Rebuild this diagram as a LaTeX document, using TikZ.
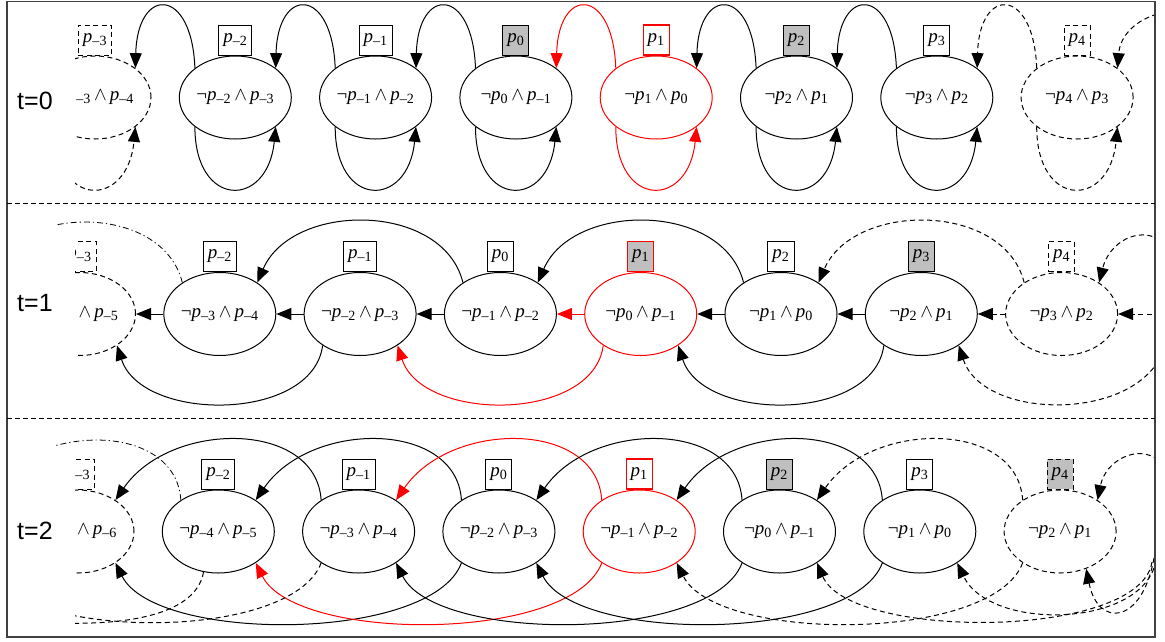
\documentclass[tikz,border=0pt]{standalone}
\usepackage{mathptmx}
\usepackage{fontspec}
\newfontfamily\labelfont{Liberation Sans}
\newfontfamily\tnr{Liberation Serif}
\usetikzlibrary{arrows.meta,shapes.geometric}
\newcommand\mysgn[1]{\ifnum#1<0 –\number\numexpr0-(#1)\relax\else#1\fi}
\newcommand\myp[1]{\textit{p}\textsubscript{\mysgn{#1}}}
\newcommand\andop{\,$\wedge$\,}
\begin{document}
\begin{tikzpicture}[
  x=1pt, y=-1pt,
  st/.style={ellipse, draw, minimum width=112pt, minimum height=83pt, inner sep=0pt, line width=1pt, font=\tnr\fontsize{19}{21}\selectfont},
  pbox/.style={draw, rectangle, minimum height=30pt, minimum width=24pt, inner xsep=4.5pt, inner ysep=0pt, line width=1pt, font=\tnr\fontsize{19}{21}\selectfont, anchor=south},
  txt/.style={font=\tnr\fontsize{19}{21}\selectfont, inner sep=0pt},
  plain/.style={},
  ghost/.style={dash pattern=on 5pt off 3.5pt},
  hlnode/.style={draw=red},
  hlbox/.style={draw=red, line width=1.1pt},
  shade/.style={fill=black!25},
  hlshade/.style={draw=red, line width=1.1pt, fill=black!25},
  ghshade/.style={dash pattern=on 5pt off 3.5pt, fill=black!25},
  edge/.style={line width=1pt, -{Triangle[length=15pt,width=12pt]}},
  dashdot/.style={line width=0.8pt, dash pattern=on 6pt off 3pt on 1.2pt off 3pt},
  rowlabel/.style={font=\labelfont\fontsize{25}{28}\selectfont, anchor=west, inner sep=0pt}
]
\useasboundingbox (0,0) rectangle (1165,641);

% row labels
\node[rowlabel] (t0) at (17,101) {t=0};
\node[rowlabel] (t1) at (17,303) {t=1};
\node[rowlabel] (t2) at (17,531) {t=2};

\coordinate (lb) at (-24,283);
\coordinate (lc) at (-25,500);

\begin{scope}
\clip (75,0) rectangle (1155,641);

% ---------------- row t=0 ----------------
\node[st,ghost] (a0) at (95,97.5) {};
\node[txt] (ta0) at (a0.center) {\phantom{¬\textit{p}}\textsubscript{–3}\andop\myp{-4}};
\node[pbox,ghost] (pa0) at (a0.north) {\myp{-3}};
\foreach \k/\es/\bs in {1/plain/plain,2/plain/plain,3/plain/shade,4/hlnode/hlbox,5/plain/shade,6/plain/plain,7/ghost/ghost}{
  \pgfmathtruncatemacro\i{\k-3}
  \pgfmathtruncatemacro\j{\k-4}
  \node[st,\es] (a\k) at ({95+140.3*\k},97.5) {¬\myp{\i}\andop\myp{\j}};
  \node[pbox,\bs] (pa\k) at (a\k.north) {\myp{\i}};
}
\foreach \k/\s in {1/plain,2/plain,3/plain,4/red,5/plain,6/plain,7/ghost}{
  \pgfmathtruncatemacro\j{\k-1}
  \draw[edge,\s] (a\k.144) .. controls +(-3,-82) and +(2,-82) .. (a\j.36);
}
\foreach \k/\s in {0/ghost,1/plain,2/plain,3/plain,4/red,5/plain,6/plain,7/ghost}{
  \draw[edge,\s] (a\k.216) .. controls +(0,82) and +(-8,82) .. (a\k.-36);
}
\coordinate (ra) at (1157,14);
\draw[edge,ghost] (ra) .. controls (1132,22) and (1120,38) .. (a7.36);

% ---------------- row t=1 ----------------
\node[st,ghost] (b0) at (79.5,314) {};
\node[txt] (tb0) at (b0.center) {\phantom{¬\myp{-4}}\andop\myp{-5}};
\node[pbox,ghost] (pb0) at (b0.north) {\myp{-3}};
\foreach \k/\es/\bs in {1/plain/plain,2/plain/plain,3/plain/plain,4/hlnode/hlshade,5/plain/plain,6/plain/shade,7/ghost/ghost}{
  \pgfmathtruncatemacro\i{\k-4}
  \pgfmathtruncatemacro\j{\k-5}
  \pgfmathtruncatemacro\m{\k-3}
  \node[st,\es] (b\k) at ({79.5+140.3*\k},314) {¬\myp{\i}\andop\myp{\j}};
  \node[pbox,\bs] (pb\k) at (b\k.north) {\myp{\m}};
}
\foreach \k/\s in {1/plain,2/plain,3/plain,4/red,5/plain,6/plain,7/ghost}{
  \pgfmathtruncatemacro\j{\k-1}
  \draw[edge,\s] (b\k.west) -- (b\j.east);
}
\coordinate (rb) at (1160,314);
\draw[edge,ghost] (rb) -- (b7.east);
\foreach \k/\s in {3/plain,5/plain,7/ghost}{
  \pgfmathtruncatemacro\j{\k-2}
  \draw[edge,\s] (b\k.140) .. controls +(-20,-81) and +(35,-81) .. (b\j.40);
}
\foreach \k/\s in {2/plain,4/red,6/plain}{
  \pgfmathtruncatemacro\j{\k-2}
  \draw[edge,\s] (b\k.220) .. controls +(-10,77) and +(25,77) .. (b\j.-40);
}
\coordinate (rb2) at (1165,345);
\draw[edge,ghost] (rb2) .. controls +(-20,77) and +(25,77) .. (b6.-40);
\coordinate (rb3) at (1160,240);
\draw[edge,ghost] (rb3) .. controls +(-22,-14) and +(10,-40) .. (b7.40);

% ---------------- row t=2 ----------------
\node[st,ghost] (c0) at (78,531.5) {};
\node[txt] (tc0) at (c0.center) {\phantom{¬\myp{-5}}\andop\myp{-6}};
\node[pbox,ghost] (pc0) at (c0.north) {\myp{-3}};
\foreach \k/\es/\bs in {1/plain/plain,2/plain/plain,3/plain/plain,4/hlnode/hlbox,5/plain/shade,6/plain/plain,7/ghost/ghshade}{
  \pgfmathtruncatemacro\i{\k-5}
  \pgfmathtruncatemacro\j{\k-6}
  \pgfmathtruncatemacro\m{\k-3}
  \node[st,\es] (c\k) at ({78+140.3*\k},531.5) {¬\myp{\i}\andop\myp{\j}};
  \node[pbox,\bs] (pc\k) at (c\k.north) {\myp{\m}};
}
\foreach \k/\s in {2/plain,3/plain,4/red,5/plain,6/plain,7/ghost}{
  \pgfmathtruncatemacro\j{\k-2}
  \draw[edge,\s] (c\k.140) .. controls +(-5,-80) and +(55,-80) .. (c\j.40);
}
\foreach \k/\s in {3/plain,4/red,5/plain,6/plain,7/ghost}{
  \pgfmathtruncatemacro\j{\k-3}
  \draw[edge,\s] (c\k.220) .. controls +(-30,80) and +(40,80) .. (c\j.-40);
}
\coordinate (lc2) at (-25,562.5);
\coordinate (lc3) at (60,623);
\draw[line width=1pt,ghost] (c2.220) .. controls +(-30,80) and +(40,80) .. (lc2);
\draw[line width=1pt,ghost] (c1.250) .. controls +(-8,45) and +(60,2) .. (lc3);
\coordinate (rc) at (1158,460);
\draw[edge,ghost] (rc) .. controls +(-20,-16) and +(8,-40) .. (c7.40);
\coordinate (rc5) at (1152,562);
\coordinate (rc6) at (1156,560);
\coordinate (rc7) at (1154,558);
\draw[edge,ghost] (rc5) .. controls (1140,640) and (850,640) .. (c5.-40);
\draw[edge,ghost] (rc6) .. controls (1145,628) and (990,632) .. (c6.-40);
\draw[edge,ghost] (rc7) .. controls (1142,625) and (1098,628) .. (c7.-55);
\end{scope}

\begin{scope}
\clip (55,0) rectangle (1155,641);
\draw[dashdot] (b1.140) .. controls +(-20,-81) and +(35,-81) .. (lb);
\draw[dashdot] (c1.140) .. controls +(-5,-80) and +(55,-80) .. (lc);
\end{scope}

% frame and separators
\draw[line width=1.2pt, black!75] (7,1.5) rectangle (1155,637);
\coordinate (s1l) at (7,203.5);
\coordinate (s1r) at (1155,203.5);
\coordinate (s2l) at (7,418);
\coordinate (s2r) at (1155,418);
\draw[line width=1pt, dash pattern=on 5pt off 3pt] (s1l) -- (s1r);
\draw[line width=1pt, dash pattern=on 5pt off 3pt] (s2l) -- (s2r);
\end{tikzpicture}
\end{document}
